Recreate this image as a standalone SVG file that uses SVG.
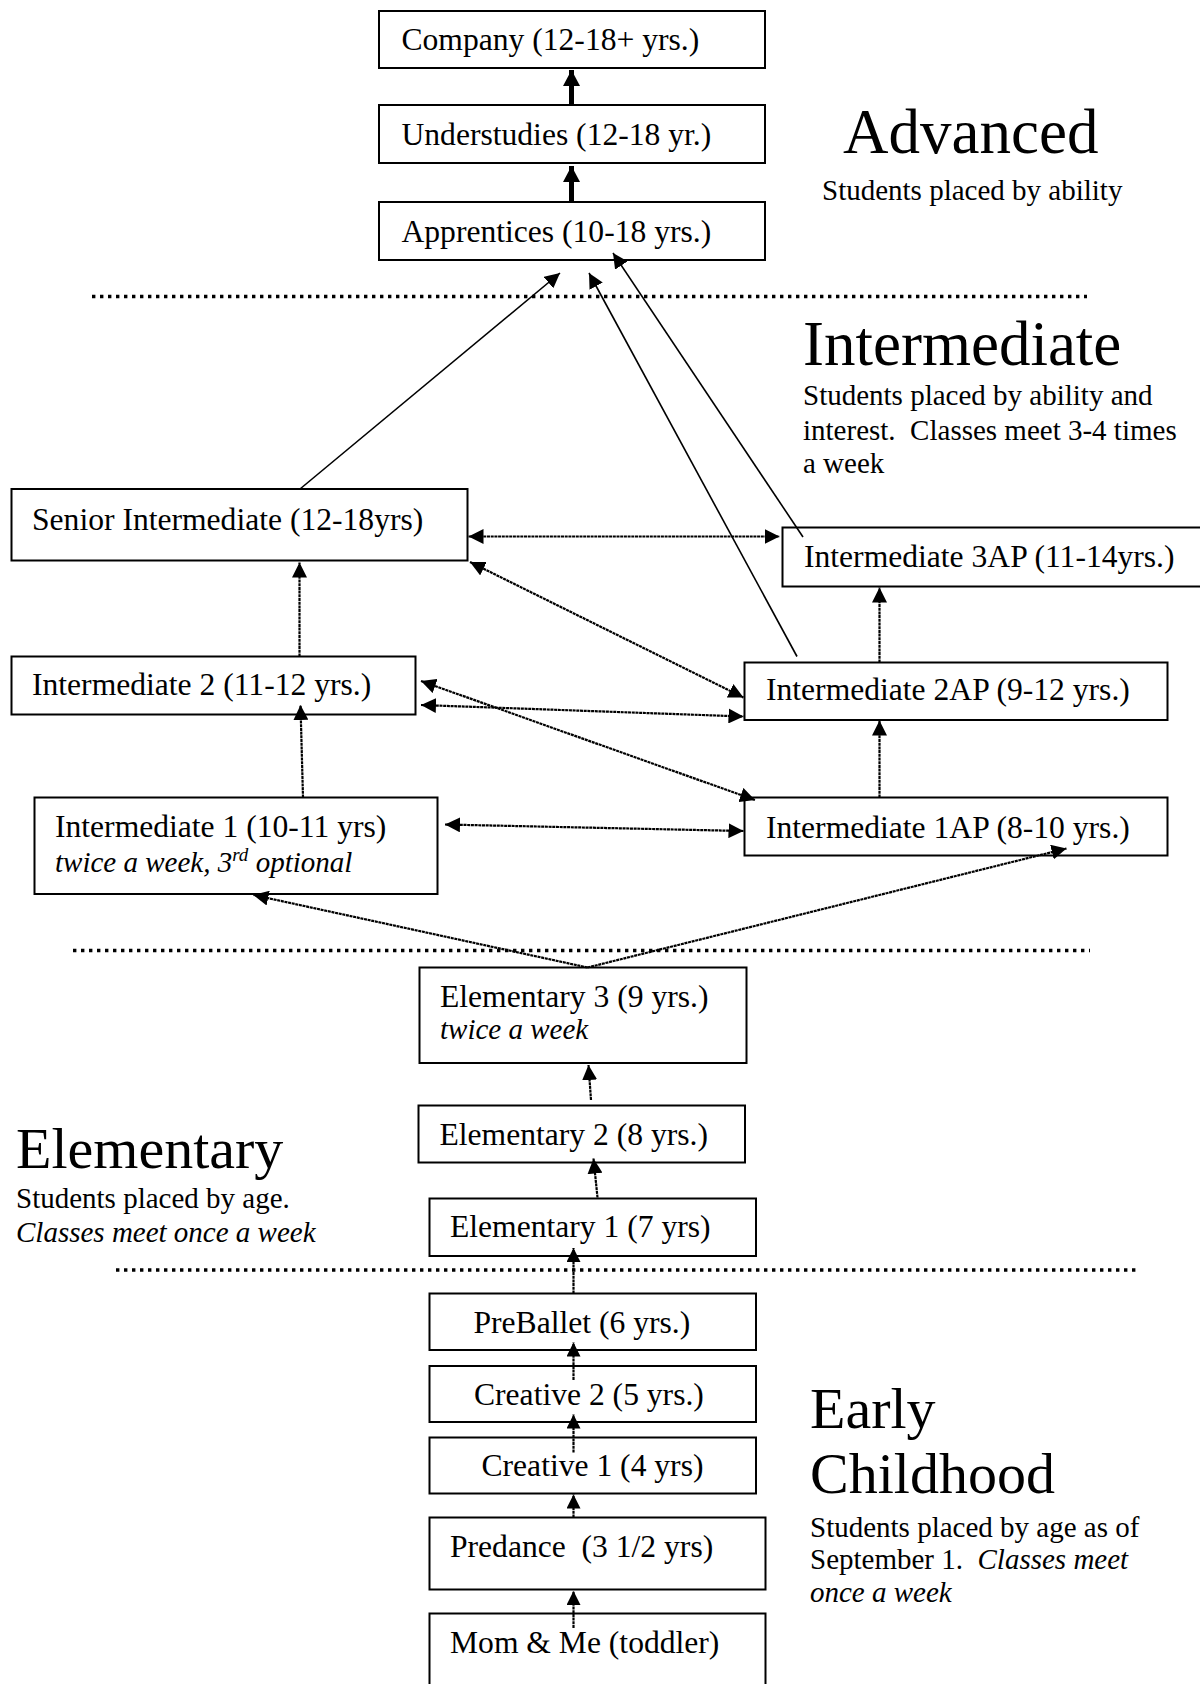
<svg xmlns="http://www.w3.org/2000/svg" width="1200" height="1684" viewBox="0 0 1200 1684">
<style>
text{font-family:"Liberation Serif","Times New Roman",serif;fill:#000}
.n{font-size:31.6px}
.d{font-size:29px}
.i{font-style:italic}
.h{font-size:63px}
.h2{font-size:58px}
.box{fill:#fff;stroke:#000;stroke-width:2}
.sep{stroke:#000;stroke-width:3.4;stroke-dasharray:3.4 4.6;fill:none}
.thick{stroke:#000;stroke-width:5;fill:none;marker-end:url(#ahb)}
.solid{stroke:#000;stroke-width:1.6;fill:none;marker-end:url(#ah)}
.dot{stroke:#000;stroke-width:2.2;stroke-dasharray:3 0.7;fill:none;marker-end:url(#ah)}
.dbl{marker-start:url(#ah)}
.sm{stroke:#000;stroke-width:2.2;stroke-dasharray:3 0.7;fill:none;marker-end:url(#ahs)}
.pre{white-space:pre}
</style>
<defs>
<marker id="ah" viewBox="0 0 15 15" refX="15" refY="7.5" markerWidth="15" markerHeight="15" markerUnits="userSpaceOnUse" orient="auto-start-reverse"><path d="M0,0 L15,7.5 L0,15 z" fill="#000"/></marker>
<marker id="ahs" viewBox="0 0 14 14" refX="14" refY="7" markerWidth="14" markerHeight="14" markerUnits="userSpaceOnUse" orient="auto-start-reverse"><path d="M0,0 L14,7 L0,14 z" fill="#000"/></marker>
<marker id="ahb" viewBox="0 0 16 17" refX="16" refY="8.5" markerWidth="16" markerHeight="17" markerUnits="userSpaceOnUse" orient="auto"><path d="M0,0 L16,8.5 L0,17 z" fill="#000"/></marker>
</defs>
<rect width="1200" height="1684" fill="#fff"/>

<g id="separators">
<line class="sep" x1="92" y1="296.5" x2="1087" y2="296.5"/>
<line class="sep" x1="73" y1="950.5" x2="1090" y2="950.5"/>
<line class="sep" x1="116" y1="1270" x2="1136" y2="1270"/>
</g>

<g id="section-labels">
<text class="h" x="843" y="153">Advanced</text>
<text class="d" x="822" y="200">Students placed by ability</text>
<text class="h" x="803" y="365">Intermediate</text>
<text class="d" x="803" y="405">Students placed by ability and</text>
<text class="d pre" x="803" y="440">interest.  Classes meet 3-4 times</text>
<text class="d" x="803" y="473">a week</text>
<text class="h2" x="16" y="1168">Elementary</text>
<text class="d" x="16" y="1208">Students placed by age.</text>
<text class="d i" x="16" y="1242">Classes meet once a week</text>
<text class="h2" x="810" y="1428">Early</text>
<text class="h2" x="810" y="1493">Childhood</text>
<text class="d" x="810" y="1537">Students placed by age as of</text>
<text class="d pre" x="810" y="1569">September 1.  <tspan class="i">Classes meet</tspan></text>
<text class="d i" x="810" y="1602">once a week</text>
</g>

<g id="nodes">
<g id="company"><rect class="box" x="379" y="11" width="386" height="57"/><text class="n" x="401.5" y="50">Company (12-18+ yrs.)</text></g>
<g id="understudies"><rect class="box" x="379" y="105" width="386" height="58"/><text class="n" x="401.5" y="145">Understudies (12-18 yr.)</text></g>
<g id="apprentices"><rect class="box" x="379" y="202" width="386" height="58"/><text class="n" x="401.5" y="241.5">Apprentices (10-18 yrs.)</text></g>
<g id="senior-intermediate"><rect class="box" x="11.5" y="489" width="456" height="71.5"/><text class="n" x="32" y="530">Senior Intermediate (12-18yrs)</text></g>
<g id="intermediate-3ap"><rect class="box" x="782.5" y="527.5" width="430" height="59"/><text class="n" x="804" y="566.5">Intermediate 3AP (11-14yrs.)</text></g>
<g id="intermediate-2"><rect class="box" x="11.5" y="656.5" width="404" height="58"/><text class="n" x="32" y="695">Intermediate 2 (11-12 yrs.)</text></g>
<g id="intermediate-2ap"><rect class="box" x="744.5" y="662.5" width="423" height="57.5"/><text class="n" x="766" y="700">Intermediate 2AP (9-12 yrs.)</text></g>
<g id="intermediate-1"><rect class="box" x="34.5" y="797.5" width="403" height="96.5"/><text class="n" x="55" y="836.5">Intermediate 1 (10-11 yrs)</text><text class="d i" x="55" y="871.5">twice a week, 3<tspan dy="-11" font-size="19">rd</tspan><tspan dy="11"> optional</tspan></text></g>
<g id="intermediate-1ap"><rect class="box" x="744.5" y="797.5" width="423" height="58"/><text class="n" x="766" y="838">Intermediate 1AP (8-10 yrs.)</text></g>
<g id="elementary-3"><rect class="box" x="419.5" y="967.5" width="327" height="95.5"/><text class="n" x="440" y="1007">Elementary 3 (9 yrs.)</text><text class="d i" x="440" y="1039">twice a week</text></g>
<g id="elementary-2"><rect class="box" x="418.5" y="1105.5" width="326.5" height="57"/><text class="n" x="439.5" y="1145">Elementary 2 (8 yrs.)</text></g>
<g id="elementary-1"><rect class="box" x="429.5" y="1198.5" width="326.5" height="57.5"/><text class="n" x="450" y="1236.5">Elementary 1 (7 yrs)</text></g>
<g id="preballet"><rect class="box" x="429.5" y="1293.5" width="326.5" height="56.5"/><text class="n" x="473.5" y="1333">PreBallet (6 yrs.)</text></g>
<g id="creative-2"><rect class="box" x="429.5" y="1366" width="326.5" height="56"/><text class="n" x="474" y="1405">Creative 2 (5 yrs.)</text></g>
<g id="creative-1"><rect class="box" x="429.5" y="1437.5" width="326.5" height="56"/><text class="n" x="481.5" y="1476">Creative 1 (4 yrs)</text></g>
<g id="predance"><rect class="box" x="429.5" y="1517.5" width="336" height="72"/><text class="n pre" x="450" y="1556.5">Predance  (3 1/2 yrs)</text></g>
<g id="mom-and-me"><rect class="box" x="429.5" y="1613.5" width="336" height="100"/><text class="n" x="450" y="1653">Mom &amp; Me (toddler)</text></g>
</g>

<g id="connectors">
<line class="thick" x1="571.5" y1="105" x2="571.5" y2="70"/>
<line class="thick" x1="571.5" y1="202" x2="571.5" y2="166"/>
<line class="solid" x1="300" y1="489" x2="560" y2="273"/>
<line class="solid" x1="797" y1="656.5" x2="589" y2="273"/>
<line class="solid" x1="803" y1="537" x2="613" y2="253"/>
<line class="dot" x1="299.5" y1="656.5" x2="299.5" y2="562.5"/>
<line class="dot" x1="303" y1="797.5" x2="300.5" y2="705"/>
<line class="dot" x1="879.5" y1="662.5" x2="879.5" y2="587.5"/>
<line class="dot" x1="879.5" y1="797.5" x2="879.5" y2="720.5"/>
<line class="dot dbl" x1="468.5" y1="536.5" x2="779.5" y2="536.5"/>
<line class="dot dbl" x1="470" y1="562" x2="743.5" y2="697.5"/>
<line class="dot dbl" x1="421" y1="681" x2="755" y2="800"/>
<line class="dot dbl" x1="421" y1="705" x2="743.5" y2="716.5"/>
<line class="dot dbl" x1="445" y1="824.5" x2="743.5" y2="831"/>
<line class="dot" x1="587.5" y1="967.5" x2="253.5" y2="895"/>
<line class="dot" x1="587.5" y1="967.5" x2="1066.5" y2="848.5"/>
<line class="dot" x1="591" y1="1100" x2="588.5" y2="1065"/>
<line class="dot" x1="597.5" y1="1197.5" x2="593.5" y2="1158.5"/>
<line class="sm" x1="573.5" y1="1293.5" x2="573.5" y2="1248"/>
<line class="sm" x1="573.5" y1="1380" x2="573.5" y2="1342.5"/>
<line class="sm" x1="573.5" y1="1452.5" x2="573.5" y2="1414.5"/>
<line class="sm" x1="573.5" y1="1517.5" x2="573.5" y2="1494.5"/>
<line class="sm" x1="573.5" y1="1628" x2="573.5" y2="1591"/>
</g>
</svg>
